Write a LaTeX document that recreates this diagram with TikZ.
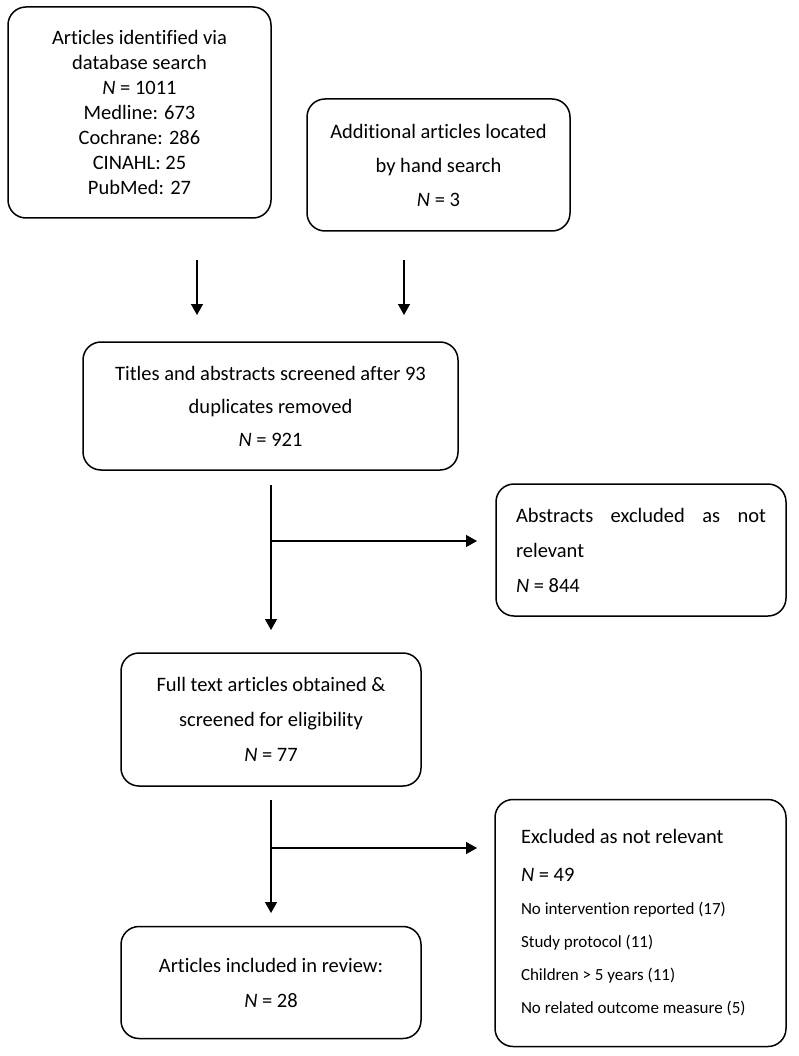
\documentclass[tikz,border=0pt]{standalone}
\usepackage{fontspec}
\setmainfont{Carlito}[Ligatures=NoCommon]
\usetikzlibrary{arrows.meta}

\tikzset{
    box/.style={draw,line width=1.5pt,rounded corners=18pt,align=center,font=\fontsize{20.5}{25}\selectfont},
    flow/.style={-{Triangle[length=11pt,width=12pt]},line width=1.4pt},
}

\begin{document}
\begin{tikzpicture}[x=1pt,y=-1pt]
    \useasboundingbox (0,0) rectangle (798,1056);
    \node[box,minimum width=263pt,minimum height=211pt] (db) at (139.5,112.5) {Articles identified via\\database search\\\textit{N} = 1011\\Medline: 673\\Cochrane: 286\\CINAHL: 25\\PubMed: 27};
    \node[box,font=\fontsize{20.5}{34}\selectfont,minimum width=263pt,minimum height=132pt] (hand) at (438.5,165) {Additional articles located\\by hand search\\\textit{N} = 3};
    \node[box,font=\fontsize{20.5}{33}\selectfont,minimum width=375pt,minimum height=128pt] (screen) at (270.5,406) {Titles and abstracts screened after 93\\duplicates removed\\\textit{N} = 921};
    \node[box,font=\fontsize{20.5}{35}\selectfont,align=flush left,text width=250pt,minimum width=290pt,minimum height=132pt] (abstr) at (641,550) {\makebox[\linewidth][s]{Abstracts excluded as not}\par relevant\par \textit{N} = 844\par};
    \node[box,font=\fontsize{20.5}{35}\selectfont,minimum width=300pt,minimum height=133pt] (full) at (271,719.5) {Full text articles obtained \&\\screened for eligibility\\\textit{N} = 77};
    \node[box,align=flush left,text width=239pt,minimum width=291pt,minimum height=247pt] (excl) at (640.5,923) {{\fontsize{20.5}{38}\selectfont Excluded as not relevant\par \textit{N} = 49\par}\fontsize{17}{33}\selectfont No intervention reported (17)\par Study protocol (11)\par Children > 5 years (11)\par No related outcome measure (5)\par};
    \node[box,font=\fontsize{20.5}{35}\selectfont,minimum width=300pt,minimum height=112pt] (incl) at (271,982.5) {Articles included in review:\\\textit{N} = 28};

    \coordinate (d1) at (197,260);
    \coordinate (d2) at (197,315);
    \coordinate (h1) at (404,260);
    \coordinate (h2) at (404,315);
    \coordinate (v1) at (271,485);
    \coordinate (v2) at (271,630);
    \coordinate (b1) at (271,541);
    \coordinate (b2) at (477,541);
    \coordinate (w1) at (271,800);
    \coordinate (w2) at (271,913);
    \coordinate (c1) at (271,848);
    \coordinate (c2) at (477,848);

    \draw[flow] (d1) -- (d2);
    \draw[flow] (h1) -- (h2);
    \draw[flow] (v1) -- (v2);
    \draw[flow] (b1) -- (b2);
    \draw[flow] (w1) -- (w2);
    \draw[flow] (c1) -- (c2);
\end{tikzpicture}
\end{document}
